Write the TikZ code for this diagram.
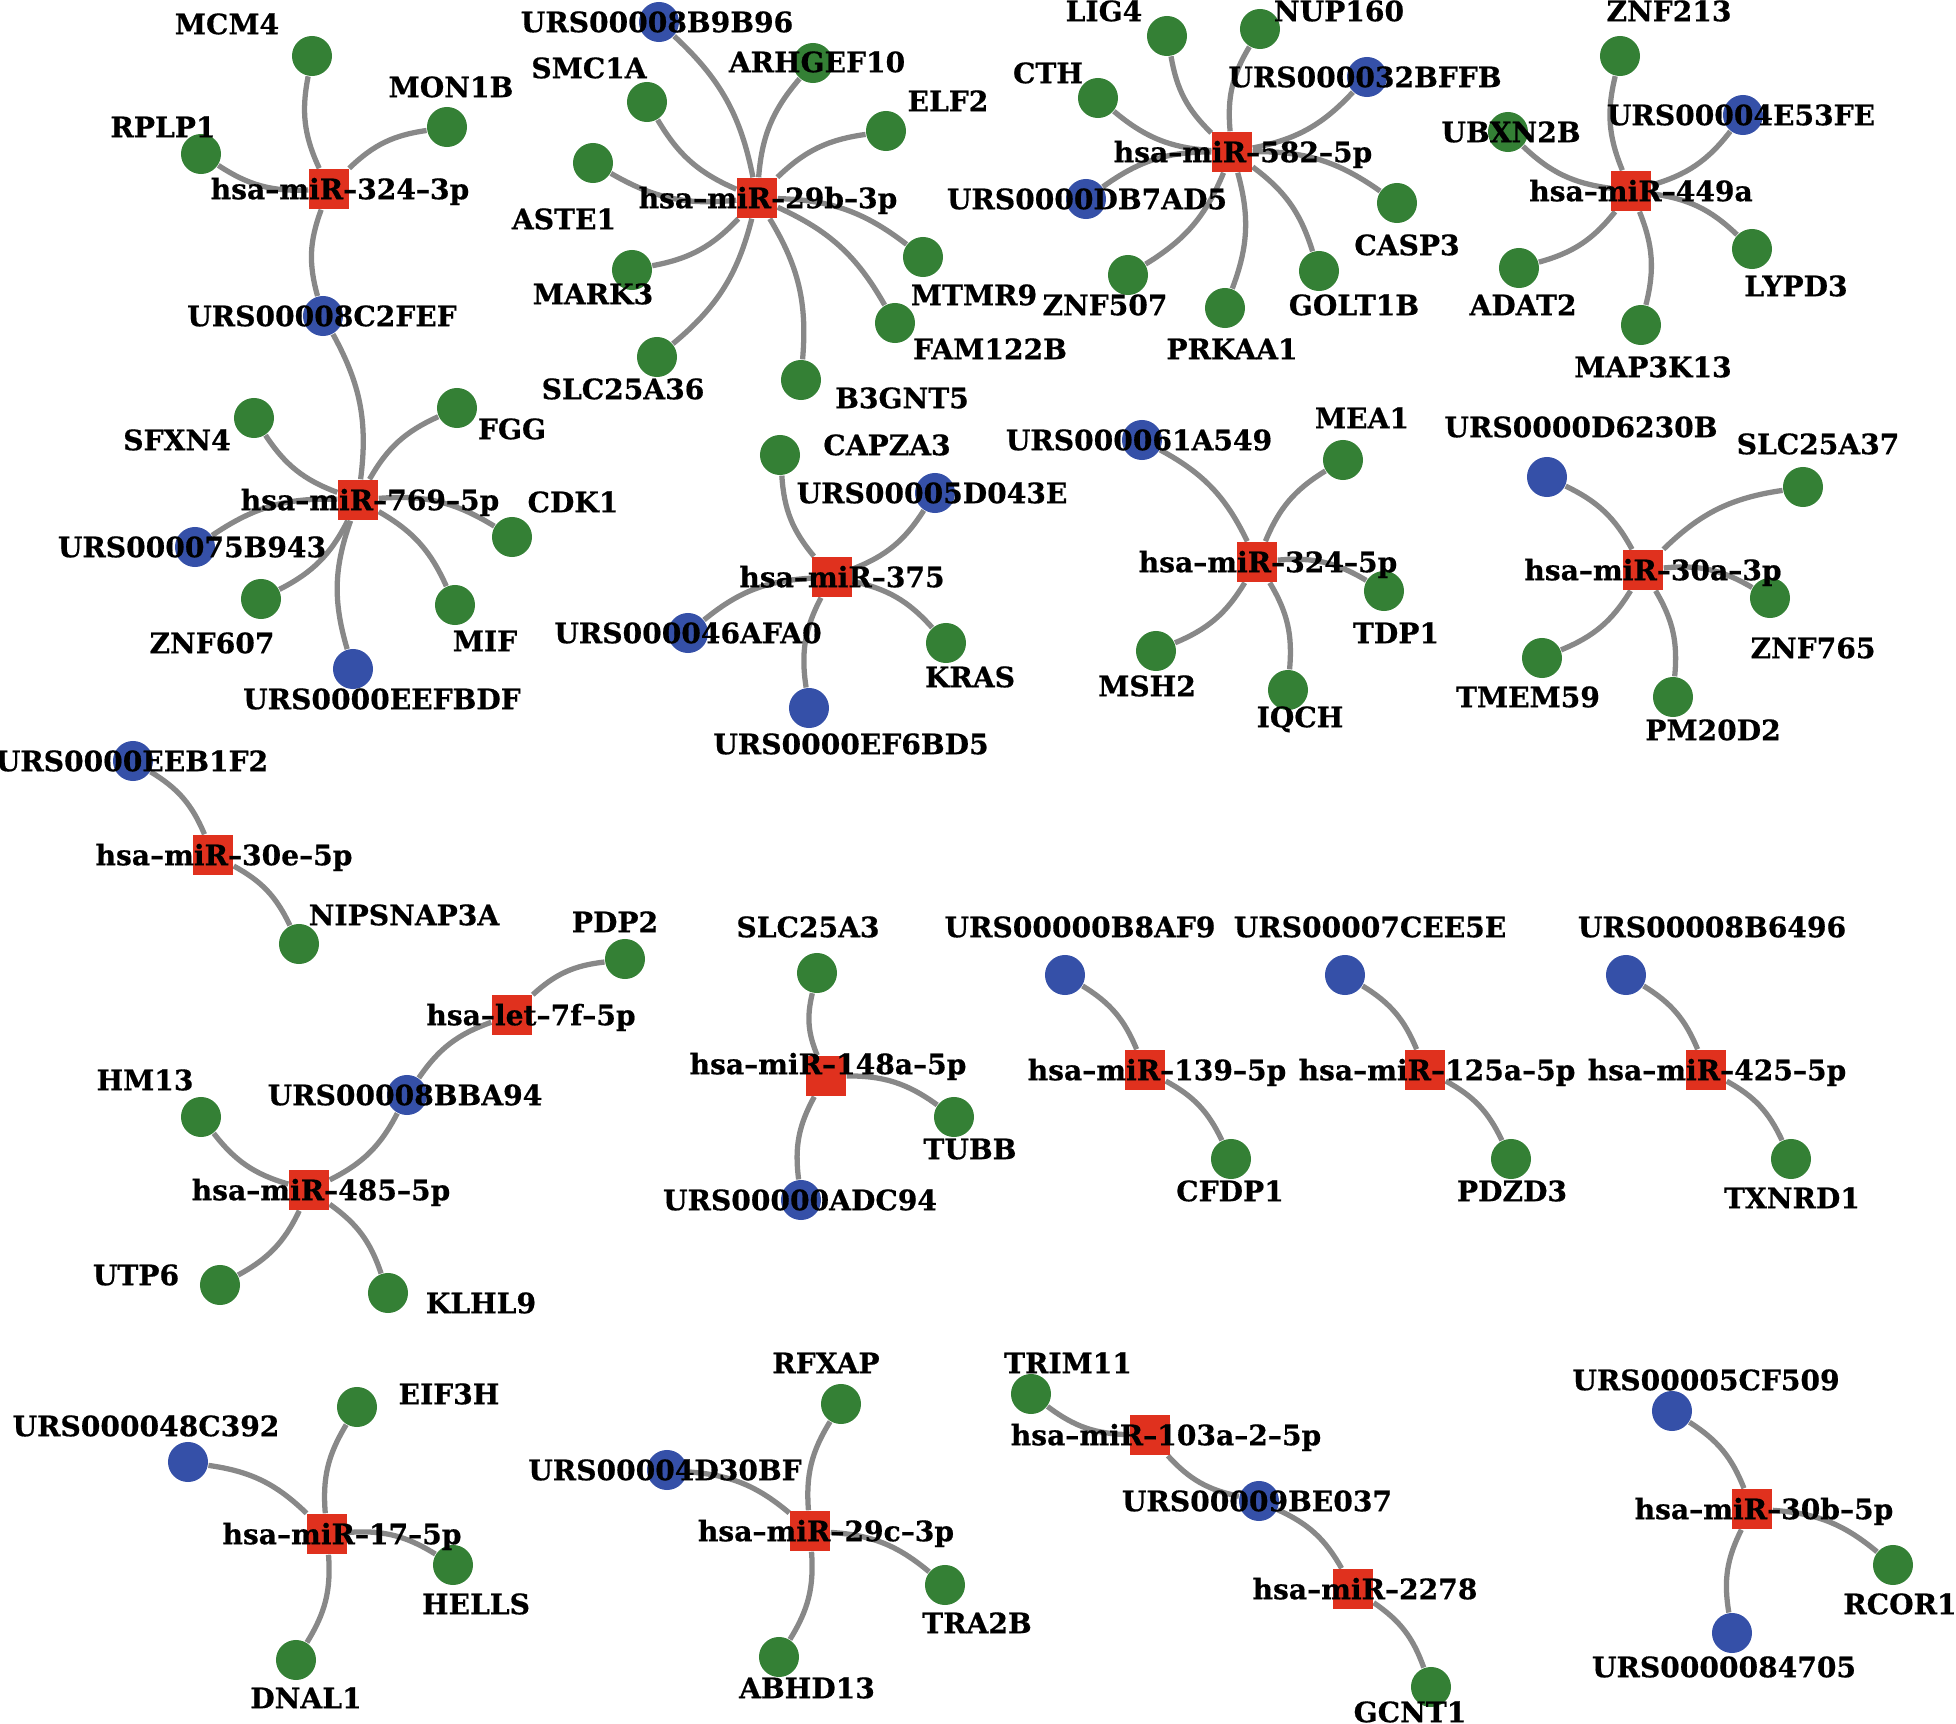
\documentclass[tikz,border=0pt]{standalone}
\usepackage{fontspec}
\setmainfont{DejaVu Serif}
\newfontfamily\lblfont{DejaVu Serif}[Ligatures=TeX, BoldFeatures={FakeBold=0.6}]
\usepackage{xcolor}
\usepackage{tikz}
\usetikzlibrary{backgrounds}
\definecolor{genegreen}{HTML}{348035}
\definecolor{ursblue}{HTML}{3550A8}
\definecolor{mirred}{HTML}{E0311E}
\definecolor{edgegray}{HTML}{888888}
\begin{document}
\begin{tikzpicture}[
  x=0.01cm, y=-0.01cm,
  gene/.style={circle, fill=genegreen, minimum size=4mm, inner sep=0pt},
  lnc/.style={circle, fill=ursblue, minimum size=4mm, inner sep=0pt},
  mirna/.style={rectangle, fill=mirred, minimum size=4mm, inner sep=0pt},
  lbl/.style={font=\lblfont\bfseries\fontsize{8}{9}\selectfont, inner sep=0pt, text height=5.8pt, text depth=0pt},
  link/.style={draw=edgegray, line width=1.5pt, bend left=18}
]
\useasboundingbox (0,0) rectangle (1956,1724);
\node[mirna] (m3243p) at (329,189) {};
\node[gene] (mcm4) at (312,56) {};
\node[gene] (mon1b) at (447,127) {};
\node[gene] (rplp1) at (201,154) {};
\node[lnc] (u8c2fef) at (323,316) {};
\node[mirna] (m7695p) at (358,500) {};
\node[gene] (sfxn4) at (254,418) {};
\node[gene] (fgg) at (457,408) {};
\node[lnc] (u75b943) at (195,547) {};
\node[gene] (cdk1) at (512,537) {};
\node[gene] (znf607) at (261,599) {};
\node[lnc] (ueefbdf) at (353,669) {};
\node[gene] (mif) at (455,605) {};
\node[mirna] (m29b3p) at (757,198) {};
\node[lnc] (u8b9b96) at (659,22) {};
\node[gene] (smc1a) at (647,102) {};
\node[gene] (arhgef10) at (813,63) {};
\node[gene] (elf2) at (886,131) {};
\node[gene] (aste1) at (593,163) {};
\node[gene] (mark3) at (632,270) {};
\node[gene] (slc25a36) at (657,357) {};
\node[gene] (b3gnt5) at (801,380) {};
\node[gene] (mtmr9) at (923,257) {};
\node[gene] (fam122b) at (895,323) {};
\node[mirna] (m5825p) at (1232,152) {};
\node[gene] (lig4) at (1167,36) {};
\node[gene] (nup160) at (1260,29) {};
\node[gene] (cth) at (1098,98) {};
\node[lnc] (u32bffb) at (1367,77) {};
\node[lnc] (udb7ad5) at (1086,199) {};
\node[gene] (casp3) at (1397,203) {};
\node[gene] (znf507) at (1128,275) {};
\node[gene] (prkaa1) at (1225,308) {};
\node[gene] (golt1b) at (1319,271) {};
\node[mirna] (m449a) at (1631,191) {};
\node[gene] (znf213) at (1620,56) {};
\node[lnc] (u4e53fe) at (1743,115) {};
\node[gene] (ubxn2b) at (1508,132) {};
\node[gene] (lypd3) at (1752,249) {};
\node[gene] (adat2) at (1519,268) {};
\node[gene] (map3k13) at (1641,325) {};
\node[mirna] (m375) at (832,577) {};
\node[gene] (capza3) at (780,455) {};
\node[lnc] (u5d043e) at (935,493) {};
\node[lnc] (u46afa0) at (688,633) {};
\node[lnc] (uef6bd5) at (809,708) {};
\node[gene] (kras) at (946,643) {};
\node[mirna] (m3245p) at (1257,562) {};
\node[lnc] (u61a549) at (1142,440) {};
\node[gene] (mea1) at (1343,460) {};
\node[gene] (tdp1) at (1384,591) {};
\node[gene] (msh2) at (1156,651) {};
\node[gene] (iqch) at (1288,690) {};
\node[mirna] (m30a3p) at (1643,570) {};
\node[lnc] (ud6230b) at (1547,477) {};
\node[gene] (slc25a37) at (1803,487) {};
\node[gene] (znf765) at (1770,598) {};
\node[gene] (tmem59) at (1542,658) {};
\node[gene] (pm20d2) at (1673,697) {};
\node[mirna] (m30e5p) at (213,855) {};
\node[lnc] (ueeb1f2) at (133,761) {};
\node[gene] (nipsnap3a) at (299,944) {};
\node[mirna] (mlet7f) at (512,1015) {};
\node[gene] (pdp2) at (625,959) {};
\node[lnc] (u8bba94) at (407,1095) {};
\node[mirna] (m4855p) at (309,1190) {};
\node[gene] (hm13) at (201,1117) {};
\node[gene] (utp6) at (220,1285) {};
\node[gene] (klhl9) at (388,1293) {};
\node[mirna] (m148a) at (826,1076) {};
\node[gene] (slc25a3) at (817,973) {};
\node[gene] (tubb) at (954,1117) {};
\node[lnc] (uadc94) at (801,1200) {};
\node[mirna] (m1395p) at (1145,1070) {};
\node[lnc] (ub8af9) at (1065,975) {};
\node[gene] (cfdp1) at (1231,1159) {};
\node[mirna] (m125a) at (1425,1070) {};
\node[lnc] (u7cee5e) at (1345,975) {};
\node[gene] (pdzd3) at (1511,1159) {};
\node[mirna] (m4255p) at (1706,1070) {};
\node[lnc] (u8b6496) at (1626,975) {};
\node[gene] (txnrd1) at (1791,1159) {};
\node[mirna] (m175p) at (327,1534) {};
\node[lnc] (u48c392) at (188,1462) {};
\node[gene] (eif3h) at (357,1407) {};
\node[gene] (hells) at (453,1565) {};
\node[gene] (dnal1) at (296,1660) {};
\node[mirna] (m29c3p) at (810,1531) {};
\node[gene] (rfxap) at (841,1404) {};
\node[lnc] (u4d30bf) at (667,1470) {};
\node[gene] (tra2b) at (945,1585) {};
\node[gene] (abhd13) at (779,1657) {};
\node[mirna] (m103a) at (1150,1435) {};
\node[gene] (trim11) at (1031,1394) {};
\node[lnc] (u9be037) at (1259,1501) {};
\node[mirna] (m2278) at (1353,1589) {};
\node[gene] (gcnt1) at (1431,1687) {};
\node[mirna] (m30b5p) at (1752,1509) {};
\node[lnc] (u5cf509) at (1672,1411) {};
\node[gene] (rcor1) at (1893,1565) {};
\node[lnc] (u84705) at (1732,1633) {};
\begin{pgfonlayer}{background}
\draw[link] (u8c2fef) to (m3243p);
\draw[link] (m3243p) to (mcm4);
\draw[link] (m3243p) to (mon1b);
\draw[link] (m3243p) to (rplp1);
\draw[link] (u8c2fef) to (m7695p);
\draw[link] (u75b943) to (m7695p);
\draw[link] (ueefbdf) to (m7695p);
\draw[link] (m7695p) to (sfxn4);
\draw[link] (m7695p) to (fgg);
\draw[link] (m7695p) to (cdk1);
\draw[link] (m7695p) to (znf607);
\draw[link] (m7695p) to (mif);
\draw[link] (u8b9b96) to (m29b3p);
\draw[link] (m29b3p) to (smc1a);
\draw[link] (m29b3p) to (arhgef10);
\draw[link] (m29b3p) to (elf2);
\draw[link] (m29b3p) to (aste1);
\draw[link] (m29b3p) to (mark3);
\draw[link] (m29b3p) to (slc25a36);
\draw[link] (m29b3p) to (b3gnt5);
\draw[link] (m29b3p) to (mtmr9);
\draw[link] (m29b3p) to (fam122b);
\draw[link] (u32bffb) to (m5825p);
\draw[link] (udb7ad5) to (m5825p);
\draw[link] (m5825p) to (lig4);
\draw[link] (m5825p) to (nup160);
\draw[link] (m5825p) to (cth);
\draw[link] (m5825p) to (casp3);
\draw[link] (m5825p) to (znf507);
\draw[link] (m5825p) to (prkaa1);
\draw[link] (m5825p) to (golt1b);
\draw[link] (u4e53fe) to (m449a);
\draw[link] (m449a) to (znf213);
\draw[link] (m449a) to (ubxn2b);
\draw[link] (m449a) to (lypd3);
\draw[link] (m449a) to (adat2);
\draw[link] (m449a) to (map3k13);
\draw[link] (u5d043e) to (m375);
\draw[link] (u46afa0) to (m375);
\draw[link] (uef6bd5) to (m375);
\draw[link] (m375) to (capza3);
\draw[link] (m375) to (kras);
\draw[link] (u61a549) to (m3245p);
\draw[link] (m3245p) to (mea1);
\draw[link] (m3245p) to (tdp1);
\draw[link] (m3245p) to (msh2);
\draw[link] (m3245p) to (iqch);
\draw[link] (ud6230b) to (m30a3p);
\draw[link] (m30a3p) to (slc25a37);
\draw[link] (m30a3p) to (znf765);
\draw[link] (m30a3p) to (tmem59);
\draw[link] (m30a3p) to (pm20d2);
\draw[link] (ueeb1f2) to (m30e5p);
\draw[link] (m30e5p) to (nipsnap3a);
\draw[link] (u8bba94) to (mlet7f);
\draw[link] (mlet7f) to (pdp2);
\draw[link] (u8bba94) to (m4855p);
\draw[link] (m4855p) to (hm13);
\draw[link] (m4855p) to (utp6);
\draw[link] (m4855p) to (klhl9);
\draw[link] (uadc94) to (m148a);
\draw[link] (m148a) to (slc25a3);
\draw[link] (m148a) to (tubb);
\draw[link] (ub8af9) to (m1395p);
\draw[link] (m1395p) to (cfdp1);
\draw[link] (u7cee5e) to (m125a);
\draw[link] (m125a) to (pdzd3);
\draw[link] (u8b6496) to (m4255p);
\draw[link] (m4255p) to (txnrd1);
\draw[link] (u48c392) to (m175p);
\draw[link] (m175p) to (eif3h);
\draw[link] (m175p) to (hells);
\draw[link] (m175p) to (dnal1);
\draw[link] (u4d30bf) to (m29c3p);
\draw[link] (m29c3p) to (rfxap);
\draw[link] (m29c3p) to (tra2b);
\draw[link] (m29c3p) to (abhd13);
\draw[link] (u9be037) to (m103a);
\draw[link] (m103a) to (trim11);
\draw[link] (u9be037) to (m2278);
\draw[link] (m2278) to (gcnt1);
\draw[link] (u5cf509) to (m30b5p);
\draw[link] (u84705) to (m30b5p);
\draw[link] (m30b5p) to (rcor1);
\end{pgfonlayer}
\node[lbl] (m3243p-t) at (340,189) {hsa--miR--324--3p};
\node[lbl] (mcm4-t) at (227,24) {MCM4};
\node[lbl] (mon1b-t) at (451,87) {MON1B};
\node[lbl] (rplp1-t) at (163,127) {RPLP1};
\node[lbl] (u8c2fef-t) at (322,316) {URS00008C2FEF};
\node[lbl] (m7695p-t) at (370,500) {hsa--miR--769--5p};
\node[lbl] (sfxn4-t) at (177,440) {SFXN4};
\node[lbl] (fgg-t) at (512,429) {FGG};
\node[lbl] (u75b943-t) at (192,547) {URS000075B943};
\node[lbl] (cdk1-t) at (573,502) {CDK1};
\node[lbl] (znf607-t) at (212,643) {ZNF607};
\node[lbl] (ueefbdf-t) at (382,699) {URS0000EEFBDF};
\node[lbl] (mif-t) at (485,641) {MIF};
\node[lbl] (m29b3p-t) at (768,198) {hsa--miR--29b--3p};
\node[lbl] (u8b9b96-t) at (657,22) {URS00008B9B96};
\node[lbl] (smc1a-t) at (589,68) {SMC1A};
\node[lbl] (arhgef10-t) at (817,62) {ARHGEF10};
\node[lbl] (elf2-t) at (948,101) {ELF2};
\node[lbl] (aste1-t) at (564,219) {ASTE1};
\node[lbl] (mark3-t) at (593,294) {MARK3};
\node[lbl] (slc25a36-t) at (623,389) {SLC25A36};
\node[lbl] (b3gnt5-t) at (902,398) {B3GNT5};
\node[lbl] (mtmr9-t) at (974,295) {MTMR9};
\node[lbl] (fam122b-t) at (990,349) {FAM122B};
\node[lbl] (m5825p-t) at (1243,152) {hsa--miR--582--5p};
\node[lbl] (lig4-t) at (1104,11) {LIG4};
\node[lbl] (nup160-t) at (1339,11) {NUP160};
\node[lbl] (cth-t) at (1048,73) {CTH};
\node[lbl] (u32bffb-t) at (1365,77) {URS000032BFFB};
\node[lbl] (udb7ad5-t) at (1087,199) {URS0000DB7AD5};
\node[lbl] (casp3-t) at (1407,245) {CASP3};
\node[lbl] (znf507-t) at (1105,305) {ZNF507};
\node[lbl] (prkaa1-t) at (1232,349) {PRKAA1};
\node[lbl] (golt1b-t) at (1354,305) {GOLT1B};
\node[lbl] (m449a-t) at (1641,191) {hsa--miR--449a};
\node[lbl] (znf213-t) at (1669,11) {ZNF213};
\node[lbl] (u4e53fe-t) at (1741,115) {URS00004E53FE};
\node[lbl] (ubxn2b-t) at (1511,132) {UBXN2B};
\node[lbl] (lypd3-t) at (1796,286) {LYPD3};
\node[lbl] (adat2-t) at (1523,305) {ADAT2};
\node[lbl] (map3k13-t) at (1653,367) {MAP3K13};
\node[lbl] (m375-t) at (842,577) {hsa--miR--375};
\node[lbl] (capza3-t) at (887,445) {CAPZA3};
\node[lbl] (u5d043e-t) at (932,493) {URS00005D043E};
\node[lbl] (u46afa0-t) at (688,633) {URS000046AFA0};
\node[lbl] (uef6bd5-t) at (851,744) {URS0000EF6BD5};
\node[lbl] (kras-t) at (970,677) {KRAS};
\node[lbl] (m3245p-t) at (1268,562) {hsa--miR--324--5p};
\node[lbl] (u61a549-t) at (1139,440) {URS000061A549};
\node[lbl] (mea1-t) at (1362,418) {MEA1};
\node[lbl] (tdp1-t) at (1396,633) {TDP1};
\node[lbl] (msh2-t) at (1147,686) {MSH2};
\node[lbl] (iqch-t) at (1300,717) {IQCH};
\node[lbl] (m30a3p-t) at (1653,570) {hsa--miR--30a--3p};
\node[lbl] (ud6230b-t) at (1581,427) {URS0000D6230B};
\node[lbl] (slc25a37-t) at (1818,444) {SLC25A37};
\node[lbl] (znf765-t) at (1813,648) {ZNF765};
\node[lbl] (tmem59-t) at (1528,697) {TMEM59};
\node[lbl] (pm20d2-t) at (1713,730) {PM20D2};
\node[lbl] (m30e5p-t) at (224,855) {hsa--miR--30e--5p};
\node[lbl] (ueeb1f2-t) at (132,761) {URS0000EEB1F2};
\node[lbl] (nipsnap3a-t) at (404,915) {NIPSNAP3A};
\node[lbl] (mlet7f-t) at (531,1015) {hsa--let--7f--5p};
\node[lbl] (pdp2-t) at (615,922) {PDP2};
\node[lbl] (u8bba94-t) at (405,1095) {URS00008BBA94};
\node[lbl] (m4855p-t) at (321,1190) {hsa--miR--485--5p};
\node[lbl] (hm13-t) at (145,1080) {HM13};
\node[lbl] (utp6-t) at (136,1275) {UTP6};
\node[lbl] (klhl9-t) at (481,1303) {KLHL9};
\node[lbl] (m148a-t) at (828,1064) {hsa--miR--148a--5p};
\node[lbl] (slc25a3-t) at (808,927) {SLC25A3};
\node[lbl] (tubb-t) at (970,1149) {TUBB};
\node[lbl] (uadc94-t) at (800,1200) {URS00000ADC94};
\node[lbl] (m1395p-t) at (1157,1070) {hsa--miR--139--5p};
\node[lbl] (ub8af9-t) at (1080,927) {URS00000B8AF9};
\node[lbl] (cfdp1-t) at (1230,1191) {CFDP1};
\node[lbl] (m125a-t) at (1437,1070) {hsa--miR--125a--5p};
\node[lbl] (u7cee5e-t) at (1370,927) {URS00007CEE5E};
\node[lbl] (pdzd3-t) at (1512,1191) {PDZD3};
\node[lbl] (m4255p-t) at (1717,1070) {hsa--miR--425--5p};
\node[lbl] (u8b6496-t) at (1712,927) {URS00008B6496};
\node[lbl] (txnrd1-t) at (1792,1198) {TXNRD1};
\node[lbl] (m175p-t) at (342,1534) {hsa--miR--17--5p};
\node[lbl] (u48c392-t) at (146,1426) {URS000048C392};
\node[lbl] (eif3h-t) at (449,1394) {EIF3H};
\node[lbl] (hells-t) at (476,1604) {HELLS};
\node[lbl] (dnal1-t) at (306,1698) {DNAL1};
\node[lbl] (m29c3p-t) at (826,1531) {hsa--miR--29c--3p};
\node[lbl] (rfxap-t) at (826,1363) {RFXAP};
\node[lbl] (u4d30bf-t) at (665,1470) {URS00004D30BF};
\node[lbl] (tra2b-t) at (977,1623) {TRA2B};
\node[lbl] (abhd13-t) at (807,1688) {ABHD13};
\node[lbl] (m103a-t) at (1166,1435) {hsa--miR--103a--2--5p};
\node[lbl] (trim11-t) at (1068,1363) {TRIM11};
\node[lbl] (u9be037-t) at (1257,1501) {URS00009BE037};
\node[lbl] (m2278-t) at (1365,1589) {hsa--miR--2278};
\node[lbl] (gcnt1-t) at (1410,1712) {GCNT1};
\node[lbl] (m30b5p-t) at (1764,1509) {hsa--miR--30b--5p};
\node[lbl] (u5cf509-t) at (1706,1380) {URS00005CF509};
\node[lbl] (rcor1-t) at (1900,1604) {RCOR1};
\node[lbl] (u84705-t) at (1724,1667) {URS0000084705};
\end{tikzpicture}
\end{document}
